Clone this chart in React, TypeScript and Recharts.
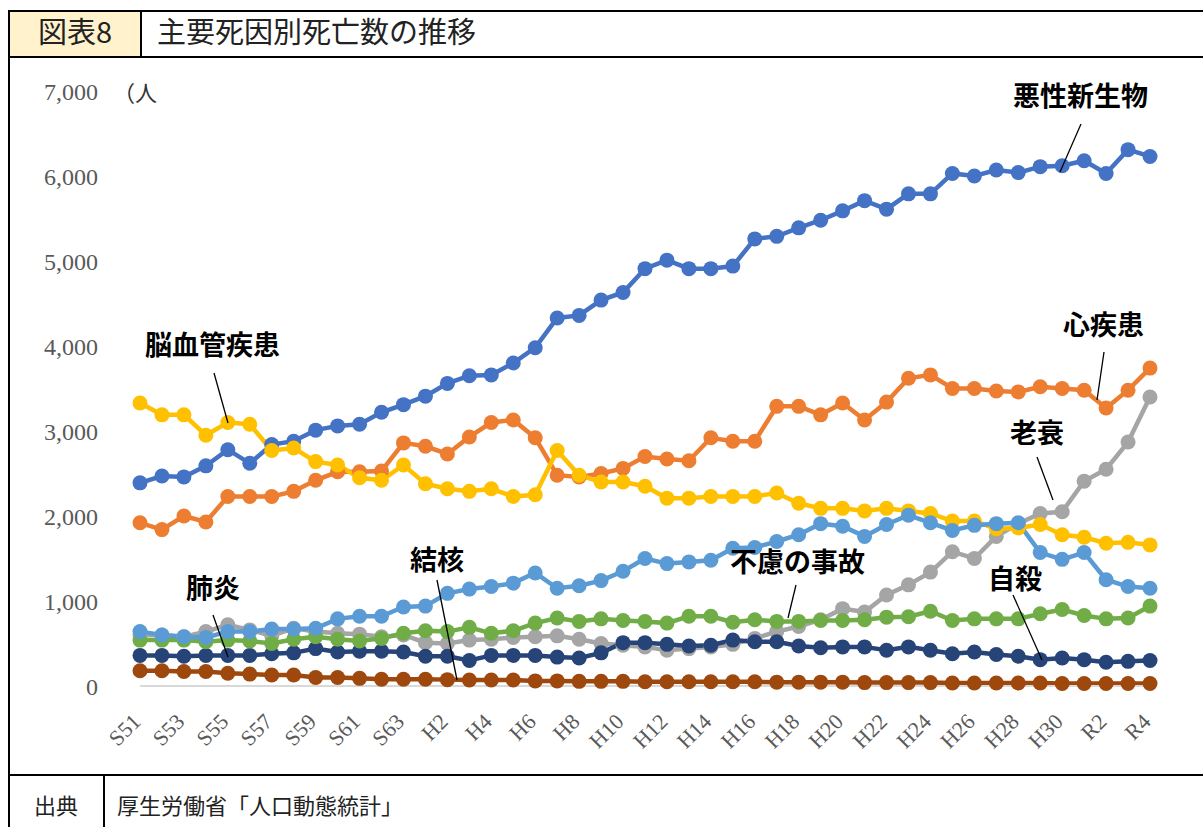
import React from 'react';
import { LineChart, Line, XAxis, YAxis } from 'recharts';

const years = [
  'S51', 'S52', 'S53', 'S54', 'S55', 'S56', 'S57', 'S58', 'S59', 'S60', 'S61', 'S62', 'S63',
  'H1', 'H2', 'H3', 'H4', 'H5', 'H6', 'H7', 'H8', 'H9', 'H10', 'H11', 'H12', 'H13', 'H14', 'H15',
  'H16', 'H17', 'H18', 'H19', 'H20', 'H21', 'H22', 'H23', 'H24', 'H25', 'H26', 'H27', 'H28', 'H29', 'H30',
  'R1', 'R2', 'R3', 'R4',
];

// 悪性新生物
const cancer = [
  2390, 2470, 2460, 2590, 2780, 2620, 2840, 2880, 3010, 3060, 3080, 3220, 3310, 3410, 3560, 3650,
  3660, 3800, 3980, 4330, 4360, 4540, 4630, 4910, 5010, 4910, 4910, 4940, 5260, 5290, 5390, 5480,
  5590, 5710, 5610, 5790, 5790, 6030, 6000, 6070, 6040, 6110, 6120, 6180, 6030, 6310, 6230,
];
// 心疾患
const heart = [
  1920, 1840, 2000, 1930, 2230, 2230, 2230, 2290, 2420, 2520, 2520, 2530, 2860, 2820, 2730, 2930,
  3100, 3130, 2920, 2480, 2460, 2500, 2560, 2700, 2670, 2650, 2920, 2880, 2880, 3290, 3290, 3190,
  3330, 3130, 3340, 3620, 3660, 3500, 3500, 3470, 3460, 3520, 3500, 3480, 3270, 3480, 3740,
];
// 脳血管疾患
const stroke = [
  3330, 3190, 3190, 2950, 3100, 3080, 2770, 2800, 2640, 2600, 2450, 2420, 2600, 2380, 2320, 2290,
  2320, 2230, 2250, 2770, 2480, 2400, 2400, 2350, 2210, 2210, 2230, 2230, 2230, 2270, 2150, 2090,
  2090, 2060, 2090, 2060, 2030, 1940, 1940, 1850, 1860, 1900, 1780, 1750, 1680, 1690, 1660,
];
// 肺炎
const pneumonia = [
  640, 600, 580, 570, 640, 640, 670, 670, 680, 790, 820, 820, 930, 940, 1090, 1140,
  1170, 1210, 1330, 1150, 1180, 1240, 1350, 1500, 1440, 1460, 1480, 1620, 1630, 1700, 1780, 1910,
  1880, 1760, 1900, 2010, 1920, 1830, 1890, 1910, 1920, 1570, 1490, 1570, 1250, 1170, 1150,
];
// 老衰
const senility = [
  600, 600, 580, 640, 720, 660, 590, 680, 640, 620, 610, 580, 600, 510, 500, 540,
  550, 570, 580, 590, 550, 500, 480, 460, 420, 440, 460, 490, 560, 640, 700, 780,
  910, 870, 1070, 1190, 1340, 1580, 1500, 1760, 1910, 2030, 2050, 2410, 2550, 2870, 3400,
];
// 不慮の事故
const accident = [
  540, 540, 540, 520, 540, 530, 500, 550, 580, 550, 530, 560, 620, 650, 640, 690,
  620, 650, 740, 800, 760, 790, 770, 760, 740, 820, 820, 750, 780, 760, 760, 770,
  770, 780, 810, 815, 880, 770, 790, 790, 790, 850, 900, 830, 790, 800, 940,
];
// 自殺
const suicide = [
  360, 360, 350, 360, 360, 360, 380, 390, 440, 400, 410, 410, 400, 350, 350, 300,
  360, 360, 360, 340, 330, 390, 510, 510, 490, 470, 480, 540, 520, 520, 470, 450,
  460, 460, 420, 460, 420, 380, 400, 370, 350, 310, 330, 310, 280, 290, 300,
];
// 結核
const tuberculosis = [
  180, 180, 170, 170, 150, 140, 130, 130, 100, 100, 90, 80, 80, 80, 75, 70,
  70, 70, 60, 60, 55, 55, 55, 50, 50, 50, 50, 50, 50, 45, 45, 45,
  45, 40, 40, 40, 40, 35, 35, 35, 35, 35, 30, 30, 30, 30, 30,
];

const yTicks = [0, 1000, 2000, 3000, 4000, 5000, 6000, 7000];

// drawing order: first is at the bottom
const series = [
  { key: 'senility', name: '老衰', values: senility, color: '#A5A5A5' },
  { key: 'tuberculosis', name: '結核', values: tuberculosis, color: '#9E480E' },
  { key: 'suicide', name: '自殺', values: suicide, color: '#264478' },
  { key: 'accident', name: '不慮の事故', values: accident, color: '#70AD47' },
  { key: 'heart', name: '心疾患', values: heart, color: '#ED7D31' },
  { key: 'cancer', name: '悪性新生物', values: cancer, color: '#4472C4' },
  { key: 'stroke', name: '脳血管疾患', values: stroke, color: '#FFC000' },
  { key: 'pneumonia', name: '肺炎', values: pneumonia, color: '#5B9BD5' },
];

const rows = years.map((year, i) => {
  const row: Record<string, string | number> = { year };
  series.forEach((s) => {
    row[s.key] = s.values[i];
  });
  return row;
});

// callout labels with leader lines (page coordinates)
const callouts = [
  { text: '悪性新生物', x: 1013, y: 106, line: [1081, 124, 1060, 172] },
  { text: '心疾患', x: 1063, y: 335, line: [1104, 352, 1097, 400] },
  { text: '脳血管疾患', x: 145, y: 355, line: [214, 373, 228, 423] },
  { text: '老衰', x: 1010, y: 443, line: [1037, 457, 1053, 500] },
  { text: '不慮の事故', x: 730, y: 572, line: [796, 585, 788, 618] },
  { text: '自殺', x: 988, y: 589, line: [1013, 595, 1042, 660] },
  { text: '結核', x: 410, y: 570, line: [437, 580, 457, 680] },
  { text: '肺炎', x: 186, y: 598, line: [213, 615, 228, 657] },
];

const jp = '"Noto Sans CJK JP", "Noto Sans", sans-serif';
const serif = '"Liberation Serif", "DejaVu Serif", serif';

const XTick = (props: any) => {
  const { x, y, payload } = props;
  const px = x + 2;
  const py = y + 37;
  return (
    <text
      x={px}
      y={py}
      transform={`rotate(-45 ${px} ${py})`}
      textAnchor="end"
      fontSize={22}
      fontFamily={serif}
      fill="#595959"
    >
      {payload.value}
    </text>
  );
};

const line = (style: React.CSSProperties) => (
  <div style={{ position: 'absolute', background: '#000', ...style }} />
);

export default function App() {
  return (
    <div
      style={{
        position: 'absolute',
        left: 0,
        top: 0,
        width: 1203,
        height: 827,
        background: '#fff',
        overflow: 'hidden',
        fontFamily: jp,
      }}
    >
      {/* title row */}
      <div style={{ position: 'absolute', left: 10, top: 12, width: 131, height: 44, background: '#FFF2CC' }} />
      {line({ left: 8, top: 10, width: 1195, height: 2 })}
      {line({ left: 8, top: 10, width: 2, height: 817 })}
      {line({ left: 8, top: 56, width: 1195, height: 2 })}
      {line({ left: 140, top: 10, width: 2, height: 47 })}
      {line({ left: 8, top: 774, width: 1195, height: 2 })}
      {line({ left: 103, top: 775, width: 2, height: 52 })}

      <div style={{ position: 'absolute', left: 0, top: 57 }}>
        <LineChart width={1203} height={718} data={rows} margin={{ top: 34, right: 53, bottom: 0, left: 0 }}>
          <XAxis
            dataKey="year"
            height={89}
            interval={1}
            tickLine={false}
            tickSize={0}
            tickMargin={0}
            axisLine={{ stroke: '#D9D9D9', strokeWidth: 2 }}
            tick={<XTick />}
          />
          <YAxis
            width={140}
            domain={[0, 7000]}
            ticks={yTicks}
            axisLine={false}
            tickLine={false}
            tickSize={0}
            tickMargin={42}
            tickFormatter={(v: number) => v.toLocaleString('en-US')}
            tick={{ fill: '#595959', fontSize: 24, fontFamily: serif }}
          />
          {series.map((s) => (
            <Line
              key={s.key}
              type="linear"
              dataKey={s.key}
              name={s.name}
              stroke={s.color}
              strokeWidth={4.5}
              dot={{ r: 7.5, fill: s.color, stroke: s.color, strokeWidth: 0 }}
              activeDot={false}
              isAnimationActive={false}
            />
          ))}
        </LineChart>
      </div>

      <svg
        width={1203}
        height={827}
        style={{ position: 'absolute', left: 0, top: 0, pointerEvents: 'none' }}
      >
        <text x={75} y={43} textAnchor="middle" fontSize={29} fontFamily={jp} fill="#222">
          図表8
        </text>
        <text x={157} y={43} fontSize={29} fontFamily={jp} fill="#222">
          主要死因別死亡数の推移
        </text>
        <text x={113} y={101} fontSize={22} fontFamily={jp} fill="#333">
          （人
        </text>
        {callouts.map((c) => (
          <g key={c.text}>
            <text x={c.x} y={c.y} fontSize={27} fontWeight="bold" fontFamily={jp} fill="#000">
              {c.text}
            </text>
            <line x1={c.line[0]} y1={c.line[1]} x2={c.line[2]} y2={c.line[3]} stroke="#000" strokeWidth={1.3} />
          </g>
        ))}
        <text x={34} y={814} fontSize={22} fontFamily={jp} fill="#222">
          出典
        </text>
        <text x={117} y={814} fontSize={22} fontFamily={jp} fill="#222">
          厚生労働省「人口動態統計」
        </text>
      </svg>
    </div>
  );
}
